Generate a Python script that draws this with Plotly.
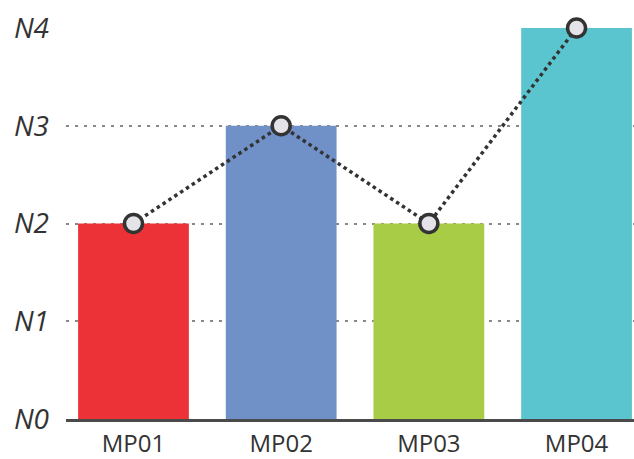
import plotly.graph_objects as go

categories = ["MP01", "MP02", "MP03", "MP04"]
bar_values = [2, 3, 2, 4]
line_values = [2, 3, 2, 4]
bar_colors = ["#ec3237", "#7090c8", "#a8cc45", "#5bc5cf"]
y_tickvals = [0, 1, 2, 3, 4]
y_ticktext = ["N0", "N1", "N2", "N3", "N4"]

fig = go.Figure()
fig.add_trace(go.Bar(
    x=categories, y=bar_values, width=0.75,
    marker=dict(color=bar_colors, line=dict(width=0)),
    showlegend=False, hoverinfo="x+y",
))
fig.add_trace(go.Scatter(
    x=categories, y=line_values, mode="lines+markers",
    line=dict(color="#333333", width=3.5, dash="dot"),
    marker=dict(size=18, color="#e4e4e8", line=dict(color="#333333", width=3.5)),
    cliponaxis=False, showlegend=False,
))

fig.update_layout(
    width=634, height=459,
    margin=dict(l=66, r=0, t=28, b=40),
    paper_bgcolor="white", plot_bgcolor="white",
    font=dict(family="Open Sans, Noto Sans, sans-serif", color="#333333"),
    xaxis=dict(
        type="category", range=[-0.457, 3.389], automargin=False,
        showline=True, linecolor="#4a4a4a", linewidth=3,
        showgrid=False, ticks="", tickfont=dict(size=24, color="#333333"),
        ticklabelstandoff=1,
    ),
    yaxis=dict(
        range=[0, 4], tickvals=y_tickvals, ticktext=y_ticktext, automargin=False,
        showgrid=True, gridcolor="#888888", griddash="3px,6px", gridwidth=1.5,
        zeroline=False, showline=False, ticks="",
        tickfont=dict(size=28, color="#333333", style="italic"),
        ticklabelstandoff=16,
    ),
)

fig.write_html("out.html", config={"displayModeBar": False},
               post_script="document.body.style.margin='0';")
